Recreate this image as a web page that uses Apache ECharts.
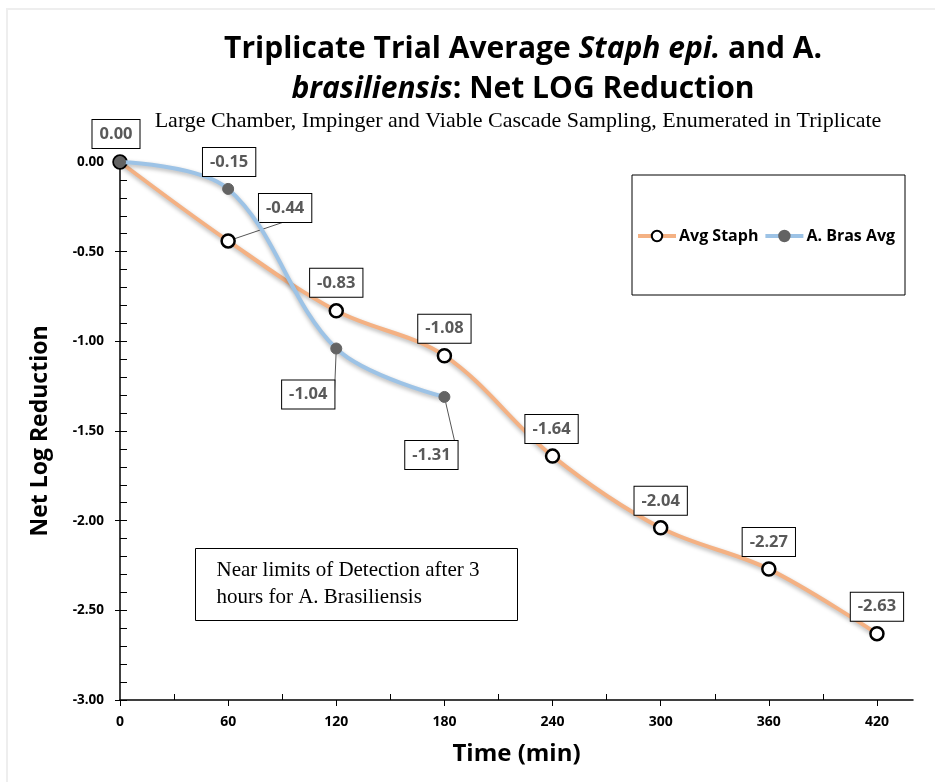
<!DOCTYPE html>
<html><head><meta charset="utf-8">
<script src="https://cdn.jsdelivr.net/npm/echarts@6/dist/echarts.min.js"></script>
<style>html,body{margin:0;padding:0;background:#fff}#c{width:935px;height:782px}</style>
</head><body><div id="c"></div>
<script>
const times = [0, 60, 120, 180, 240, 300, 360, 420];
const staphValues = [0.00, -0.44, -0.83, -1.08, -1.64, -2.04, -2.27, -2.63];
const brasTimes = [0, 60, 120, 180];
const brasValues = [0.00, -0.15, -1.04, -1.31];
const xTickLabels = [0, 60, 120, 180, 240, 300, 360, 420];
const xMinorTicks = [30, 90, 150, 210, 270, 330, 390];

const staphLabelPos = [
  {offset:[-4,-28]}, {offset:[57,-33], line:true}, {offset:[0,-28]}, {offset:[0,-27]},
  {offset:[-1,-27]}, {offset:[0,-27]}, {offset:[0,-27]}, {offset:[0,-27]}
];
const brasLabelPos = [
  {offset:[0,-28], hide:true}, {offset:[1,-27]}, {offset:[-28,46], line:true}, {offset:[-13,58], line:true}
];

const FONT = 'Open Sans, sans-serif';
const labelBox = {
  show: true, position: 'inside', formatter: p => p.value[1].toFixed(2),
  color: '#595959', fontWeight: 'bold', fontSize: 16.5, fontFamily: FONT,
  backgroundColor: '#fff', borderColor: '#000', borderWidth: 1, padding: [6, 7, 5, 7]
};

function mk(xs, ys, pos) {
  return ys.map((v, i) => ({
    value: [xs[i], v],
    label: Object.assign({}, labelBox, {offset: pos[i].offset, show: !pos[i].hide}),
    labelLine: {show: !!pos[i].line, lineStyle: {color: '#555', width: 1}}
  }));
}

const chart = echarts.init(document.getElementById('c'));
chart.setOption({
  animation: false,
  title: [{
    left: 518, top: 24, textAlign: 'center',
    text: '{b|Triplicate Trial Average }{bi|Staph epi.}{b| and A.}\n{bi|brasiliensis}{b|: Net LOG Reduction}',
    textStyle: {
      lineHeight: 40,
      rich: {
        b: {fontFamily: FONT, fontWeight: 'bold', fontSize: 30, color: '#000', lineHeight: 40},
        bi: {fontFamily: FONT, fontWeight: 'bold', fontStyle: 'italic', fontSize: 30, color: '#000', lineHeight: 40}
      }
    }
  }, {
    left: 513, top: 105, textAlign: 'center',
    text: 'Large Chamber, Impinger and Viable Cascade Sampling, Enumerated in Triplicate',
    textStyle: {fontFamily: 'Liberation Serif, serif', fontWeight: 'normal', fontSize: 22, color: '#000'}
  }],
  legend: {
    left: 636, top: 228, padding: 0,
    itemGap: 5, itemWidth: 38, itemHeight: 13,
    lineStyle: {width: 4},
    textStyle: {fontFamily: FONT, fontWeight: 'bold', fontSize: 16, color: '#000', padding: [0, 0, 0, -2]},
    data: ['Avg Staph', 'A. Bras Avg']
  },
  grid: [
    {left: 120, right: 22, top: 162, bottom: 82, containLabel: false},
    {left: 120, right: 22, top: 162, bottom: 82, containLabel: false}
  ],
  xAxis: [{
    type: 'value', min: 0, max: 440, interval: 60, gridIndex: 0,
    name: 'Time (min)', nameLocation: 'middle', nameGap: 42,
    nameTextStyle: {fontFamily: FONT, fontWeight: 'bold', fontSize: 24, color: '#000'},
    axisLine: {onZero: false, lineStyle: {color: '#000', width: 1.5}},
    axisTick: {show: true, length: 6, lineStyle: {color: '#000'}, customValues: xTickLabels},
    axisLabel: {fontFamily: FONT, fontWeight: 'bold', fontSize: 14, color: '#000', margin: 15,
      customValues: xTickLabels, formatter: v => String(v)},
    splitLine: {show: false}
  }, {
    type: 'value', min: 0, max: 440, gridIndex: 1, position: 'bottom',
    axisLine: {show: false, onZero: false}, axisLabel: {show: false}, splitLine: {show: false},
    axisTick: {show: true, inside: true, length: 6, lineStyle: {color: '#000'}, customValues: xMinorTicks}
  }],
  yAxis: [{
    type: 'value', min: -3, max: 0, interval: 0.5, gridIndex: 0,
    name: 'Net Log Reduction', nameLocation: 'middle', nameGap: 68, nameRotate: 90,
    nameTextStyle: {fontFamily: FONT, fontWeight: 'bold', fontSize: 23, color: '#000'},
    axisLine: {show: true, lineStyle: {color: '#000', width: 1.5}},
    axisTick: {show: true, length: 5, lineStyle: {color: '#000'}},
    axisLabel: {fontFamily: FONT, fontWeight: 'bold', fontSize: 13.5, color: '#000', margin: 16,
      formatter: v => v.toFixed(2)},
    splitLine: {show: false}
  }, {
    type: 'value', min: -3, max: 0, interval: 0.1, gridIndex: 1, position: 'left',
    axisLine: {show: false}, axisLabel: {show: false}, splitLine: {show: false},
    axisTick: {show: true, inside: true, length: 7, lineStyle: {color: '#000'}}
  }],
  series: [{
    name: 'Avg Staph', type: 'line', smooth: 0.35, clip: false,
    symbol: 'circle', symbolSize: 13,
    lineStyle: {color: '#F4B183', width: 4, shadowColor: 'rgba(0,0,0,0.3)', shadowBlur: 4, shadowOffsetY: 2},
    itemStyle: {color: '#fff', borderColor: '#000', borderWidth: 2.5},
    data: mk(times, staphValues, staphLabelPos),
    z: 3
  }, {
    name: 'A. Bras Avg', type: 'line', smooth: 0.35, clip: false,
    symbol: 'circle', symbolSize: 11,
    lineStyle: {color: '#9DC3E6', width: 4, shadowColor: 'rgba(0,0,0,0.3)', shadowBlur: 4, shadowOffsetY: 2},
    itemStyle: {color: '#636363', borderColor: '#636363', borderWidth: 1},
    data: mk(brasTimes, brasValues, brasLabelPos),
    z: 4
  }],
  graphic: [{
    type: 'polyline', silent: true, z: -1,
    shape: {points: [[7, 782], [7, 9], [935, 9]]},
    style: {stroke: '#eeeeee', lineWidth: 2, fill: null}
  }, {
    type: 'rect', silent: true, z: -1,
    shape: {x: 632, y: 175, width: 273, height: 120},
    style: {fill: '#fff', stroke: '#000', lineWidth: 1}
  }, {
    type: 'group', left: 195, top: 548,
    children: [{
      type: 'rect', shape: {x: 0, y: 0, width: 322, height: 72},
      style: {fill: '#fff', stroke: '#000', lineWidth: 1}
    }, {
      type: 'text', x: 21, y: 8,
      style: {text: 'Near limits of Detection after 3\nhours for A. Brasiliensis', font: '21px "Liberation Serif", serif', fill: '#000', lineHeight: 27}
    }]
  }]
});
</script></body></html>
